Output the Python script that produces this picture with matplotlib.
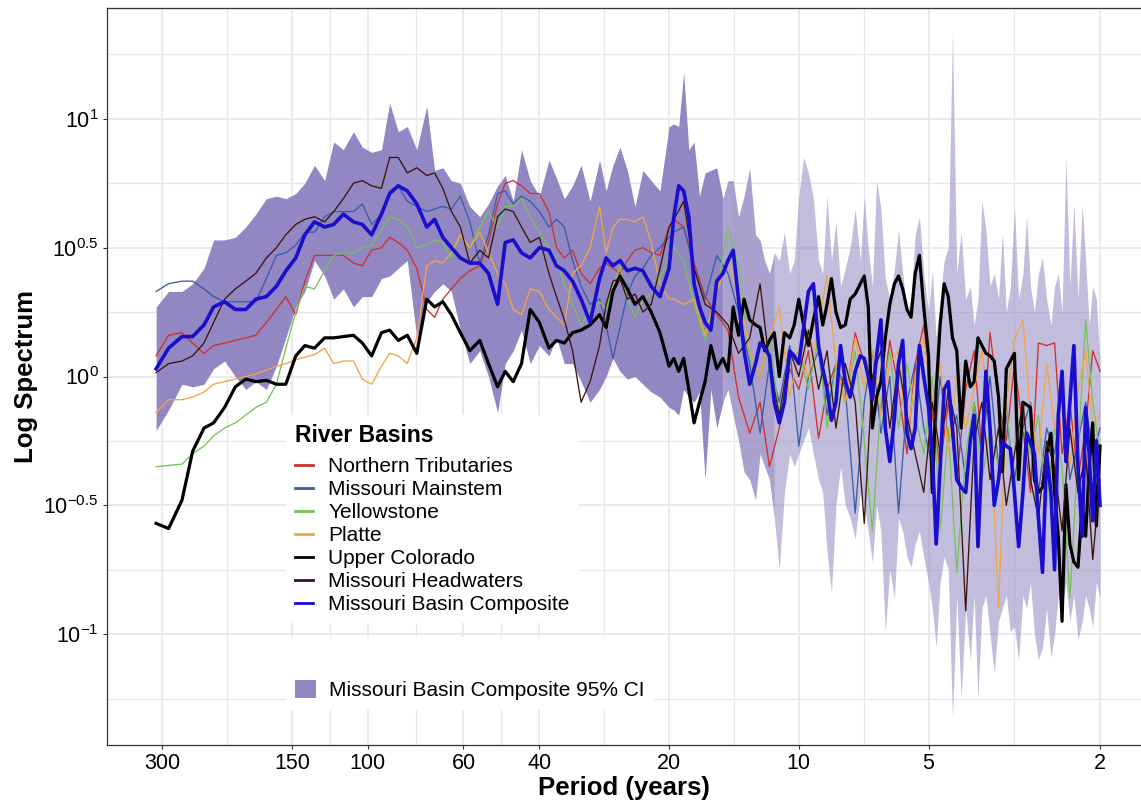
import numpy as np
import matplotlib.pyplot as plt
from matplotlib.lines import Line2D
from matplotlib.patches import Patch
from matplotlib.ticker import FixedLocator, NullFormatter

plt.rcParams['font.family'] = ['Liberation Sans', 'DejaVu Sans']
plt.rcParams['mathtext.fontset'] = 'custom'
plt.rcParams['mathtext.rm'] = 'Liberation Sans'
plt.rcParams['mathtext.it'] = 'Liberation Sans:italic'
plt.rcParams['mathtext.bf'] = 'Liberation Sans:bold'

# periods (years); spectrum values are stored as log10 of the spectrum
period_left = [310, 290, 270, 255, 240, 228, 215, 203, 192, 182, 172, 163, 155, 147, 140,
               133, 126, 120, 114, 108, 103, 98, 93, 89, 85, 81, 77, 73, 70, 67, 64, 61,
               58, 55, 52.5, 50, 48, 46, 44, 42, 40, 38, 36.5, 35, 33.5, 32, 30.5, 29, 28,
               27, 26, 25, 24, 23, 22, 21, 20]
period_fine = [19.5, 19, 18.5, 18, 17.5, 17, 16.5, 16, 15.5, 15, 14.6, 14.2, 13.8, 13.4, 13,
               12.6, 12.3, 12, 11.7, 11.4, 11.1, 10.8, 10.5, 10.25, 10, 9.75, 9.5, 9.25, 9,
               8.8, 8.6, 8.4, 8.2, 8, 7.8, 7.6, 7.4, 7.2, 7.05, 6.9, 6.75, 6.6, 6.45, 6.3,
               6.15, 6, 5.87, 5.74, 5.61, 5.49, 5.37, 5.25, 5.13, 5, 4.9, 4.8, 4.7, 4.6, 4.5,
               4.4, 4.3, 4.2, 4.1, 4.0, 3.92, 3.84, 3.76, 3.68, 3.6, 3.52, 3.44, 3.37, 3.3,
               3.23, 3.16, 3.09, 3.02, 2.96, 2.9, 2.84, 2.78, 2.72, 2.66, 2.6, 2.55, 2.5,
               2.45, 2.4, 2.35, 2.3, 2.25, 2.2, 2.16, 2.12, 2.08, 2.04, 2.0]
period_coarse = period_fine[::2]

composite_left = [0.03, 0.11, 0.155, 0.155, 0.20, 0.27, 0.29, 0.26, 0.26, 0.30,
                  0.31, 0.35, 0.41, 0.46, 0.55, 0.60, 0.58, 0.59, 0.63, 0.60,
                  0.59, 0.55, 0.63, 0.71, 0.74, 0.72, 0.67, 0.58, 0.61, 0.54,
                  0.50, 0.46, 0.44, 0.44, 0.40, 0.28, 0.52, 0.53, 0.48, 0.46,
                  0.50, 0.49, 0.43, 0.41, 0.37, 0.30, 0.21, 0.38, 0.46, 0.43,
                  0.45, 0.41, 0.42, 0.41, 0.35, 0.31, 0.42]
composite_right = [0.62, 0.74, 0.72, 0.62, 0.36, 0.27, 0.21, 0.18, 0.37, 0.40,
                   0.45, 0.49, 0.30, 0.10, -0.03, 0.05, 0.13, 0.11, 0.08, -0.10,
                   -0.18, -0.10, 0.10, 0.08, 0.05, 0.19, 0.33, 0.36, 0.12, 0.03,
                   -0.05, -0.17, -0.10, 0.12, -0.02, -0.08, 0.02, 0.08, 0.07, 0.00,
                   -0.09, 0.08, 0.22, -0.20, -0.33, -0.16, 0.05, 0.14, -0.22, -0.28,
                   -0.20, 0.12, 0.00, -0.12, -0.30, -0.65, -0.35, -0.05, -0.02, -0.20,
                   -0.40, -0.43, -0.45, -0.25, -0.15, -0.66, -0.30, 0.02, -0.20, -0.50,
                   -0.40, -0.25, -0.27, -0.28, -0.45, -0.66, -0.45, -0.22, -0.26, -0.30,
                   -0.55, -0.76, -0.30, -0.45, -0.75, -0.15, 0.02, -0.33, -0.10, 0.12,
                   -0.35, -0.62, -0.12, -0.30, -0.56, -0.25, -0.50]

colorado_left = [-0.57, -0.59, -0.48, -0.29, -0.20, -0.18, -0.12, -0.04, -0.01, -0.02,
                 -0.015, -0.03, -0.03, 0.08, 0.12, 0.11, 0.15, 0.15, 0.155, 0.16,
                 0.13, 0.08, 0.17, 0.18, 0.14, 0.16, 0.09, 0.30, 0.27, 0.29,
                 0.24, 0.17, 0.10, 0.14, 0.05, -0.04, 0.02, -0.02, 0.05, 0.26,
                 0.21, 0.11, 0.14, 0.13, 0.17, 0.18, 0.20, 0.24, 0.19, 0.33,
                 0.39, 0.34, 0.28, 0.31, 0.25, 0.17, 0.04]
colorado_right = [0.07, 0.02, 0.07, -0.05, -0.18, -0.10, -0.02, 0.12, 0.03, 0.07,
                  0.02, 0.27, 0.16, 0.30, 0.22, 0.20, 0.19, 0.10, 0.14, 0.17,
                  0.00, 0.17, 0.15, 0.20, 0.30, 0.20, 0.12, 0.22, 0.31, 0.20,
                  0.28, 0.38, 0.25, 0.19, 0.20, 0.30, 0.32, 0.36, 0.39, 0.27,
                  -0.20, -0.08, -0.02, 0.15, 0.28, 0.36, 0.39, 0.34, 0.26, 0.23,
                  0.40, 0.47, 0.27, 0.08, -0.45, -0.05, 0.20, 0.36, 0.31, 0.15,
                  0.10, -0.20, 0.06, -0.04, -0.02, 0.15, 0.12, 0.09, 0.08, 0.06,
                  -0.08, -0.37, 0.03, 0.06, 0.09, -0.40, -0.10, -0.11, -0.12, -0.40,
                  -0.45, -0.43, -0.30, -0.22, -0.45, -0.62, -0.95, -0.42, -0.65, -0.72,
                  -0.74, -0.50, -0.62, -0.35, -0.18, -0.58, -0.27]

ci_upper_left = [0.27, 0.33, 0.33, 0.36, 0.42, 0.53, 0.53, 0.54, 0.58, 0.63,
                 0.69, 0.70, 0.69, 0.71, 0.75, 0.82, 0.76, 0.91, 0.88, 0.95,
                 0.89, 0.87, 0.88, 1.06, 0.95, 0.97, 0.88, 1.05, 0.80, 0.81,
                 0.76, 0.75, 0.66, 0.62, 0.67, 0.74, 0.78, 0.68, 0.88, 0.76,
                 0.70, 0.84, 0.77, 0.69, 0.74, 0.82, 0.68, 0.84, 0.72, 0.82,
                 0.89, 0.80, 0.66, 0.80, 0.76, 0.72, 0.97]
ci_upper_right = [0.98, 0.97, 1.18, 0.88, 0.91, 0.70, 0.79, 0.80, 0.81, 0.69,
                  0.76, 0.76, 0.62, 0.70, 0.81, 0.55, 0.53, 0.45, 0.40, 0.48,
                  0.45, 0.56, 0.40, 0.45, 0.70, 0.85, 0.79, 0.69, 0.45, 0.40,
                  0.70, 0.45, 0.60, 0.35, 0.42, 0.50, 0.65, 0.45, 0.70, 0.50,
                  0.35, 0.76, 0.65, 0.38, 0.30, 0.42, 0.57, 0.40, 0.25, 0.30,
                  0.55, 0.62, 0.40, 0.25, 0.41, 0.15, 0.30, 0.45, 0.50, 1.34,
                  0.40, 0.56, 0.30, 0.35, 0.20, 0.30, 0.68, 0.57, 0.35, 0.40,
                  0.30, 0.56, 0.25, 0.35, 0.66, 0.30, 0.40, 0.62, 0.35, 0.25,
                  0.40, 0.46, 0.30, 0.20, 0.35, 0.40, 0.25, 0.85, 0.35, 0.67,
                  0.30, 0.67, 0.45, 0.20, 0.35, 0.30, 0.05]
ci_lower_left = [-0.21, -0.13, -0.03, -0.04, -0.03, 0.03, 0.06, 0.00, -0.05, -0.02,
                 -0.05, 0.04, 0.15, 0.27, 0.33, 0.45, 0.39, 0.30, 0.34, 0.27,
                 0.31, 0.31, 0.38, 0.39, 0.42, 0.45, 0.15, 0.29, 0.33, 0.36,
                 0.33, 0.18, 0.05, 0.10, 0.00, -0.14, 0.05, 0.10, 0.18, 0.05,
                 0.12, 0.08, 0.15, 0.05, 0.05, -0.02, -0.10, -0.05, 0.00, 0.07,
                 0.02, -0.01, 0.00, -0.03, -0.06, -0.08, -0.12]
ci_lower_right = [-0.13, -0.15, -0.05, -0.08, -0.10, -0.06, -0.40, -0.05, -0.20, -0.10,
                  -0.05, -0.15, -0.25, -0.37, -0.40, -0.48, -0.30, -0.35, -0.40, -0.55,
                  -0.75, -0.45, -0.30, -0.35, -0.30, -0.25, -0.20, -0.30, -0.40, -0.45,
                  -0.68, -0.84, -0.50, -0.35, -0.50, -0.55, -0.63, -0.45, -0.50, -0.60,
                  -0.72, -0.50, -0.60, -0.99, -0.75, -0.86, -0.55, -0.60, -0.70, -0.74,
                  -0.65, -0.60, -0.70, -0.80, -0.90, -1.05, -0.80, -0.70, -0.75, -1.33,
                  -0.85, -1.25, -0.90, -1.10, -0.85, -1.25, -0.90, -0.85, -1.00, -1.15,
                  -0.95, -0.90, -0.85, -0.99, -0.97, -1.10, -0.85, -0.90, -0.80, -1.00,
                  -1.10, -1.05, -0.90, -1.09, -1.00, -0.85, -0.90, -0.80, -0.95, -0.85,
                  -1.02, -0.95, -0.85, -0.90, -0.97, -0.80, -0.86]

tributaries_left = [0.08, 0.16, 0.17, 0.13, 0.09, 0.12, 0.13, 0.14, 0.15, 0.16,
                    0.21, 0.26, 0.31, 0.24, 0.37, 0.47, 0.47, 0.47, 0.47, 0.44,
                    0.43, 0.49, 0.50, 0.54, 0.52, 0.49, 0.42, 0.26, 0.23, 0.30,
                    0.34, 0.38, 0.41, 0.43, 0.52, 0.67, 0.75, 0.76, 0.74, 0.71,
                    0.71, 0.64, 0.50, 0.46, 0.49, 0.40, 0.36, 0.42, 0.44, 0.42,
                    0.40, 0.45, 0.49, 0.50, 0.48, 0.47, 0.58]
tributaries_right = [0.61, 0.58, 0.44, 0.31, 0.24, 0.18, -0.08, -0.22, -0.10, -0.35,
                     -0.20, 0.03, -0.05, 0.10, -0.24, -0.05, 0.05, -0.10, 0.17, 0.05,
                     -0.05, -0.14, 0.14, -0.05, -0.30, 0.05, 0.20, -0.15, -0.35, -0.10,
                     -0.40, -0.05, 0.10, -0.30, 0.17, -0.10, -0.25, 0.05, -0.20, -0.45,
                     0.13, 0.12, 0.13, -0.30, -0.10, -0.40, -0.20, 0.10, 0.02]

mainstem_left = [0.33, 0.36, 0.37, 0.37, 0.34, 0.31, 0.29, 0.29, 0.29, 0.29,
                 0.38, 0.47, 0.48, 0.51, 0.56, 0.56, 0.62, 0.64, 0.64, 0.64,
                 0.67, 0.59, 0.63, 0.72, 0.74, 0.68, 0.66, 0.64, 0.65, 0.66,
                 0.65, 0.70, 0.60, 0.44, 0.55, 0.71, 0.72, 0.67, 0.70, 0.68,
                 0.64, 0.58, 0.61, 0.58, 0.45, 0.35, 0.28, 0.30, 0.20, 0.07,
                 0.19, 0.32, 0.39, 0.42, 0.47, 0.50, 0.54]
mainstem_right = [0.56, 0.58, 0.42, 0.30, 0.47, 0.40, 0.25, 0.05, -0.22, 0.05,
                  -0.10, 0.12, -0.27, 0.00, 0.10, -0.15, 0.05, -0.05, -0.53, -0.10,
                  0.10, -0.22, 0.00, -0.53, -0.10, 0.05, -0.20, -0.35, 0.00, -0.25,
                  -0.15, -0.40, -0.10, -0.30, 0.00, -0.35, -0.15, -0.40, -0.20, -0.10,
                  -0.45, -0.20, -0.30, -0.05, -0.40, -0.25, -0.10, -0.30, -0.20]

yellowstone_left = [-0.35, -0.345, -0.34, -0.30, -0.27, -0.23, -0.20, -0.18, -0.15, -0.12,
                    -0.10, -0.03, 0.11, 0.25, 0.35, 0.34, 0.41, 0.47, 0.48, 0.48,
                    0.50, 0.51, 0.57, 0.62, 0.61, 0.58, 0.50, 0.51, 0.53, 0.52,
                    0.46, 0.55, 0.50, 0.58, 0.64, 0.58, 0.66, 0.66, 0.69, 0.62,
                    0.56, 0.50, 0.45, 0.36, 0.28, 0.20, 0.26, 0.29, 0.26, 0.35,
                    0.43, 0.30, 0.23, 0.30, 0.32, 0.38, 0.47]
yellowstone_right = [0.50, 0.45, 0.28, 0.14, 0.33, 0.58, 0.43, 0.07, 0.00, 0.15,
                     -0.15, 0.05, 0.10, -0.05, 0.15, -0.20, 0.05, -0.10, 0.10, -0.25,
                     -0.60, -0.10, 0.10, -0.20, 0.05, -0.15, -0.30, 0.00, -0.60, -0.20,
                     -0.76, -0.30, -0.10, -0.40, -0.20, -0.35, -0.10, -0.45, -0.20, -0.30,
                     -0.15, -0.50, -0.20, -0.35, -0.86, -0.30, 0.22, -0.10, -0.30]

platte_left = [-0.14, -0.09, -0.09, -0.08, -0.06, -0.03, -0.02, -0.01, 0.00, 0.01,
               0.025, 0.04, 0.05, 0.065, 0.075, 0.085, 0.11, 0.05, 0.06, 0.06,
               -0.01, -0.03, 0.04, 0.09, 0.08, 0.05, 0.15, 0.43, 0.45, 0.44,
               0.48, 0.55, 0.50, 0.56, 0.48, 0.40, 0.36, 0.26, 0.24, 0.34,
               0.33, 0.26, 0.23, 0.20, 0.40, 0.43, 0.50, 0.66, 0.48, 0.58,
               0.61, 0.61, 0.60, 0.62, 0.52, 0.36, 0.30]
platte_right = [0.30, 0.28, 0.30, 0.16, 0.33, 0.45, 0.33, 0.10, 0.00, 0.15,
                0.27, -0.08, 0.10, 0.00, 0.20, 0.39, 0.05, -0.10, 0.15, -0.05,
                0.10, -0.15, 0.05, 0.10, -0.25, 0.00, 0.15, -0.10, 0.05, -0.30,
                0.00, -0.20, -0.05, 0.10, -0.15, -0.90, -0.10, 0.14, 0.22, -0.15,
                -0.30, 0.05, -0.20, -0.10, -0.35, -0.05, 0.10, -0.20, -0.15]

headwaters_left = [0.015, 0.05, 0.06, 0.08, 0.13, 0.21, 0.30, 0.34, 0.37, 0.40,
                   0.46, 0.50, 0.55, 0.59, 0.61, 0.62, 0.60, 0.64, 0.69, 0.75,
                   0.76, 0.74, 0.73, 0.85, 0.85, 0.79, 0.81, 0.78, 0.79, 0.73,
                   0.64, 0.58, 0.44, 0.49, 0.46, 0.62, 0.65, 0.64, 0.58, 0.52,
                   0.54, 0.40, 0.31, 0.22, 0.10, -0.10, -0.02, 0.12, 0.28, 0.37,
                   0.38, 0.30, 0.32, 0.25, 0.28, 0.42, 0.58]
headwaters_right = [0.61, 0.68, 0.42, 0.28, 0.25, 0.20, 0.09, 0.15, 0.36, 0.05,
                    -0.15, 0.10, 0.00, 0.18, -0.05, 0.10, -0.20, 0.05, -0.10, -0.57,
                    0.00, 0.10, -0.20, 0.05, -0.15, -0.30, -0.45, -0.10, -0.30, -0.05,
                    -0.20, -0.91, -0.25, -0.10, -0.40, -0.20, -0.50, -0.30, -0.10, -0.40,
                    -0.55, -0.25, -0.35, -0.60, -0.20, -0.45, -0.30, -0.71, -0.40]

basin_names = ['Northern Tributaries', 'Missouri Mainstem', 'Yellowstone', 'Platte',
               'Upper Colorado', 'Missouri Headwaters', 'Missouri Basin Composite']
basin_colors = ['#D0302A', '#3A5DA8', '#77C25A', '#EFA648', '#000000', '#3B1408', '#1A0DCC']
ci_color = '#9287C2'

x_ticks = [300, 150, 100, 60, 40, 20, 10, 5, 2]
y_exps = [-1, -0.5, 0, 0.5, 1]

period_all = np.array(period_left + period_fine)
period_thin = np.array(period_left + period_coarse)

fig = plt.figure(figsize=(11.41, 8.0), dpi=100)
ax = fig.add_axes([107 / 1141, 55 / 800, 1034 / 1141, 737 / 800])
ax.set_xscale('log')
ax.set_yscale('log')

# confidence band: solid at long periods, fading where it breaks into thin spikes
lo = 10 ** np.array(ci_lower_left + ci_lower_right)
hi = 10 ** np.array(ci_upper_left + ci_upper_right)
ax.fill_between(period_all, lo, hi, where=period_all >= 15, color=ci_color, lw=0, zorder=1)
ax.fill_between(period_all, lo, hi, where=(period_all <= 15) & (period_all >= 11.4),
                color=ci_color, alpha=0.78, lw=0, zorder=1)
ax.fill_between(period_all, lo, hi, where=period_all <= 11.4, color=ci_color, alpha=0.55,
                lw=0, zorder=1)

thin = [tributaries_left + tributaries_right, mainstem_left + mainstem_right,
        yellowstone_left + yellowstone_right, platte_left + platte_right]
for vals, c in zip(thin, basin_colors[:4]):
    ax.plot(period_thin, 10 ** np.array(vals), color=c, lw=0.95, zorder=2)
ax.plot(period_all, 10 ** np.array(colorado_left + colorado_right), color=basin_colors[4],
        lw=2.3, zorder=3)
ax.plot(period_thin, 10 ** np.array(headwaters_left + headwaters_right), color=basin_colors[5],
        lw=0.95, zorder=3)
ax.plot(period_all, 10 ** np.array(composite_left + composite_right), color=basin_colors[6],
        lw=2.6, zorder=4)

ax.set_xlim(403, 1.607)
ax.set_ylim(10 ** -1.43, 10 ** 1.43)
ax.xaxis.set_major_locator(FixedLocator(x_ticks))
ax.set_xticklabels([str(t) for t in x_ticks])
ax.xaxis.set_minor_locator(FixedLocator(np.sqrt(np.array(x_ticks[:-1]) * np.array(x_ticks[1:]))))
ax.xaxis.set_minor_formatter(NullFormatter())
ax.yaxis.set_major_locator(FixedLocator([10.0 ** e for e in y_exps]))
ax.set_yticklabels(['$10^{%g}$' % e for e in y_exps])
ax.yaxis.set_minor_locator(FixedLocator([10.0 ** e for e in [-1.25, -0.75, -0.25, 0.25, 0.75, 1.25]]))
ax.yaxis.set_minor_formatter(NullFormatter())

ax.grid(which='major', color='#E8E7EC', lw=1.3)
ax.grid(which='minor', color='#E8E7EC', lw=0.9)
ax.set_axisbelow(True)
ax.tick_params(which='major', length=3, width=0.8, color='#333333', labelsize=15.5,
               labelcolor='black', pad=3)
ax.tick_params(which='minor', length=0)
for s in ['left', 'bottom', 'top']:
    ax.spines[s].set_color('#333333')
    ax.spines[s].set_linewidth(0.9)
ax.spines['right'].set_visible(False)

ax.set_xlabel('Period (years)', fontsize=18.5, fontweight='bold', labelpad=1)
ax.set_ylabel('Log Spectrum', fontsize=18.5, fontweight='bold', labelpad=4)

handles = [Line2D([], [], color=c, lw=2) for c in basin_colors]
leg1 = ax.legend(handles, basin_names, title='River Basins', loc='upper left',
                 bbox_to_anchor=(0.1731, 0.4478), fontsize=15,
                 title_fontproperties={'weight': 'bold', 'size': 16.5},
                 frameon=True, facecolor='white', edgecolor='none', framealpha=1,
                 fancybox=False, borderpad=0.45, labelspacing=0.19, handlelength=0.87,
                 handletextpad=0.72, borderaxespad=0, alignment='left')
leg1._legend_box.sep = 7  # a little extra room under the legend title
ax.add_artist(leg1)
ax.legend([Patch(facecolor=ci_color, edgecolor='none')], ['Missouri Basin Composite 95% CI'],
          title=' ', loc='upper left', bbox_to_anchor=(0.1731, 0.1465), fontsize=15,
          title_fontproperties={'size': 16.5}, frameon=True, facecolor='white',
          edgecolor='none', framealpha=1, fancybox=False, borderpad=0.45,
          handlelength=1.0, handleheight=1.0, handletextpad=0.62, borderaxespad=0,
          alignment='left')

fig.savefig('out.png', dpi=100)
